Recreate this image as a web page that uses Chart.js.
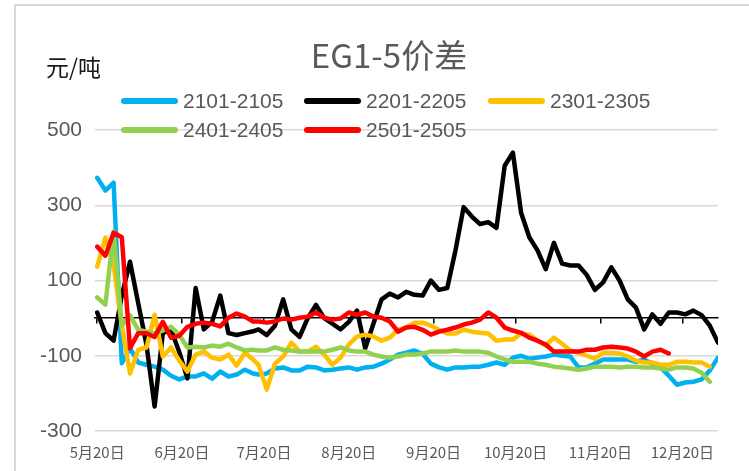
<!DOCTYPE html>
<html>
<head>
<meta charset="utf-8">
<script src="https://cdn.jsdelivr.net/npm/chart.js@4.4.0/dist/chart.umd.min.js"></script>
<style>
  html, body { margin: 0; padding: 0; background: #fff; }
</style>
</head>
<body>
<canvas id="chartEG" width="749" height="471"></canvas>
<script>
// 距 5月20日 的天数（采样点）
const days = [0, 3, 6, 9, 12, 15, 18, 21, 24, 27, 30, 33, 36, 39, 42, 45, 48, 51, 54, 57,
  59, 62, 65, 68, 71, 74, 77, 80, 83, 86, 89, 92, 95, 98, 101, 104, 107, 110, 113, 116,
  119, 122, 125, 128, 131, 134, 137, 140, 143, 146, 149, 152, 155, 158, 161, 164, 167, 170, 173, 176,
  179, 182, 185, 188, 191, 194, 197, 200, 203, 206, 209, 212, 215, 218, 221, 224, 227];

const tickDays = [0, 31, 61, 92, 123, 153, 184, 214];
const tickLabels = ['5月20日', '6月20日', '7月20日', '8月20日', '9月20日', '10月20日', '11月20日', '12月20日'];
const yTicks = [-300, -100, 100, 300, 500];

const seriesNames = ['2101-2105', '2201-2205', '2301-2305', '2401-2405', '2501-2505'];
const seriesColors = ['#00b0f0', '#000000', '#ffc000', '#92d050', '#ff0000'];

const spread2101 = [373, 339, 360, -120, -80, -118, -124, -129, -137, -153,
  -163, -155, -155, -147, -161, -142, -155, -150, -137, -147,
  -150, -147, -134, -131, -139, -139, -129, -131, -139, -137,
  -134, -131, -137, -131, -129, -121, -110, -97, -92, -86,
  -95, -121, -131, -137, -131, -131, -129, -129, -124, -118,
  -124, -105, -100, -108, -105, -102, -97, -100, -102, -131,
  -131, -121, -110, -110, -110, -110, -116, -110, -121, -131,
  -153, -177, -171, -169, -163, -139, -105];

const spread2201 = [15, -40, -60, 60, 150, 40, -70, -235, -40, -30,
  -90, -160, 80, -30, -10, 60, -40, -45, -40, -35,
  -30, -45, -20, 50, -30, -50, 0, 35, 0, -15,
  -30, -10, 20, -80, -15, 50, 65, 55, 70, 62,
  60, 100, 75, 80, 180, 295, 270, 250, 255, 240,
  405, 440, 280, 215, 180, 130, 200, 145, 140, 140,
  115, 75, 95, 135, 100, 50, 28, -30, 10, -15,
  15, 15, 10, 20, 8, -20, -65];

const spread2301 = [137, 214, 142, -20, -147, -84, -78, 9, -102, -78,
  -113, -142, -97, -89, -105, -110, -97, -126, -92, -110,
  -124, -190, -121, -102, -65, -89, -89, -76, -97, -124,
  -105, -70, -49, -44, -49, -60, -52, -31, -25, -12,
  -12, -20, -31, -41, -41, -31, -36, -39, -41, -60,
  -57, -57, -41, -44, -60, -73, -52, -68, -86, -92,
  -100, -108, -92, -92, -94, -102, -113, -118, -118, -124,
  -124, -116, -116, -118, -118, -129, null];

const spread2401 = [55, 36, 230, -20, 7, -31, -36, -41, -33, -23,
  -44, -78, -76, -78, -73, -76, -68, -78, -86, -84,
  -86, -86, -78, -84, -86, -89, -89, -89, -89, -84,
  -78, -86, -89, -89, -97, -102, -105, -102, -97, -97,
  -94, -89, -89, -89, -86, -89, -89, -89, -92, -102,
  -110, -116, -116, -116, -121, -124, -129, -131, -134, -137,
  -134, -129, -129, -129, -131, -129, -129, -131, -131, -134,
  -137, -131, -131, -134, -145, -169, null];

const spread2501 = [190, 166, 227, 215, -80, -40, -40, -50, -10, -52,
  -47, -23, -15, -12, -15, -22, 1, 12, 4, -9,
  -9, -12, -9, -1, -4, 1, 4, 15, 1, -4,
  -1, 15, 9, 15, 4, 1, -9, -36, -25, -23,
  -31, -44, -36, -31, -25, -17, -12, -4, 15, 1,
  -25, -33, -39, -52, -60, -70, -89, -89, -89, -89,
  -84, -84, -78, -76, -78, -81, -89, -102, -89, -84,
  -94, null, null, null, null, null, null];

const allSpreads = [spread2101, spread2201, spread2301, spread2401, spread2501];
// 后面的合约画在上层
const drawOrder = [5, 4, 3, 2, 1];

const LATIN = "'Liberation Sans', Arial, sans-serif";
const CJK = "'Noto Sans CJK SC', 'Noto Sans', sans-serif";

const datasets = seriesNames.map((name, i) => ({
  label: name,
  data: days.map((d, j) => ({ x: d, y: allSpreads[i][j] })),
  borderColor: seriesColors[i],
  backgroundColor: seriesColors[i],
  borderWidth: 4.5,
  borderJoinStyle: 'round',
  borderCapStyle: 'round',
  pointRadius: 0,
  tension: 0,
  fill: false,
  order: drawOrder[i],
  xAxisID: 'x',
  yAxisID: 'y'
}));

// 外框、标题、单位和图例
const decorPlugin = {
  id: 'decor',
  beforeDraw(chart) {
    const c = chart.ctx;
    c.save();
    c.fillStyle = '#ffffff';
    c.fillRect(0, 0, chart.width, chart.height);
    c.strokeStyle = '#d9d9d9';
    c.lineWidth = 2;
    c.beginPath();
    c.moveTo(15, chart.height);
    c.lineTo(15, 5);
    c.lineTo(chart.width, 5);
    c.stroke();
    c.restore();
  },
  afterDatasetsDraw(chart) {
    const c = chart.ctx;
    c.save();
    c.fillStyle = '#595959';
    c.font = '33px ' + CJK;
    c.textAlign = 'center';
    c.textBaseline = 'middle';
    c.fillText('EG1-5价差', 389, 55);

    c.fillStyle = '#1a1a1a';
    c.font = '23px ' + CJK;
    c.textAlign = 'left';
    c.fillText('元/吨', 46, 67);

    const cols = [121, 304, 488];
    const rows = [101, 130];
    c.font = '21px ' + LATIN;
    chart.data.datasets.forEach((ds, i) => {
      const x = cols[i % 3];
      const y = rows[Math.floor(i / 3)];
      c.strokeStyle = ds.borderColor;
      c.lineWidth = 6;
      c.lineCap = 'round';
      c.beginPath();
      c.moveTo(x + 3, y);
      c.lineTo(x + 54, y);
      c.stroke();
      c.fillStyle = '#595959';
      c.fillText(ds.label, x + 62, y + 1);
    });
    c.restore();
  }
};

new Chart(document.getElementById('chartEG'), {
  type: 'line',
  data: { datasets },
  plugins: [decorPlugin],
  options: {
    responsive: false,
    animation: false,
    devicePixelRatio: 1,
    layout: { padding: { top: 130, right: 31, left: 0, bottom: 0 } },
    plugins: {
      legend: { display: false },
      title: { display: false },
      tooltip: { enabled: false }
    },
    scales: {
      // 横轴压在 0 值上，只画轴线和刻度
      x: {
        type: 'linear',
        position: { y: 0 },
        min: -0.8,
        max: 227,
        afterBuildTicks: s => { s.ticks = tickDays.map(v => ({ value: v })); },
        ticks: { display: false },
        grid: { drawOnChartArea: false, drawTicks: true, tickLength: 5, color: '#000', lineWidth: 1.5 },
        border: { display: true, color: '#000', width: 1.5 }
      },
      // 日期标签放在底部
      x2: {
        type: 'linear',
        position: 'bottom',
        min: -0.8,
        max: 227,
        afterBuildTicks: s => { s.ticks = tickDays.map(v => ({ value: v })); },
        afterFit: s => { s.height = 40; },
        ticks: {
          autoSkip: false,
          maxRotation: 0,
          padding: 12,
          color: '#595959',
          font: { family: CJK, size: 15 },
          callback: v => tickLabels[tickDays.indexOf(v)]
        },
        grid: { display: false, drawTicks: false },
        border: { display: false }
      },
      y: {
        type: 'linear',
        position: 'left',
        min: -300,
        max: 500,
        afterBuildTicks: s => { s.ticks = yTicks.map(v => ({ value: v })); },
        afterFit: s => { s.width = 95; },
        ticks: {
          padding: 13,
          color: '#595959',
          font: { family: LATIN, size: 21 }
        },
        grid: { color: '#d9d9d9', lineWidth: 1.5, drawTicks: false },
        border: { display: false }
      }
    }
  }
});
</script>
</body>
</html>
